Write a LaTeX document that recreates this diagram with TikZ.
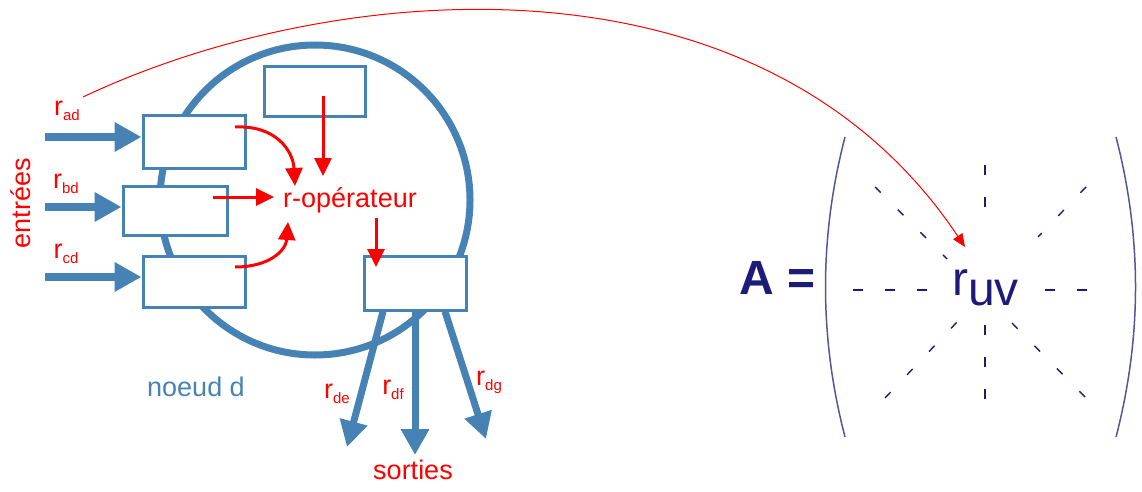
\documentclass[tikz,border=0pt]{standalone}
\usepackage{fontspec}
\setmainfont{Liberation Sans}
\usetikzlibrary{arrows.meta}
\definecolor{blu}{RGB}{70,130,180}
\definecolor{nav}{RGB}{28,28,120}
\newcommand{\rsub}[1]{r\raisebox{-5pt}{\fontsize{15}{15}\selectfont #1}}
\begin{document}
\begin{tikzpicture}[x=1pt,y=-1pt,
 box/.style={draw=blu,line width=3pt,fill=white,minimum width=102pt,minimum height=52pt,inner sep=0pt},
 inarrow/.style={draw=blu,line width=8pt,-{Triangle[length=27pt,width=28pt]}},
 outarrow/.style={draw=blu,line width=7pt,-{Triangle[length=26pt,width=27pt]}},
 redarrow/.style={draw=red,line width=3pt,-{Triangle[length=18pt,width=17pt]}},
 lbl/.style={text=red,font=\fontsize{27}{30}\selectfont,inner sep=0pt},
 dsh/.style={draw=nav,line width=1.8pt,dash pattern=on 10pt off 22pt},
 paren/.style={draw=nav!75,line width=1.5pt}]
\useasboundingbox (0,0) rectangle (1142,492);
% node circle
\node[circle,draw=blu,line width=7pt,minimum size=310pt,inner sep=0pt] (nd) at (315,200) {};
% boxes
\node[box,minimum width=102pt,minimum height=53pt] (b1) at (194,142) {};
\node[box,minimum width=104pt,minimum height=49pt] (b2) at (175,211) {};
\node[box,minimum width=102pt,minimum height=51pt] (b3) at (194,282) {};
\node[box,minimum width=101pt,minimum height=50pt] (bt) at (314.5,92) {};
\node[box,minimum width=102pt,minimum height=54pt] (bo) at (415,283) {};
% input arrows
\coordinate (i1) at (45,137);
\coordinate (i2) at (45,207);
\coordinate (i3) at (45,277);
\draw[inarrow] (i1) -- (i1 -| b1.west);
\draw[inarrow] (i2) -- (i2 -| b2.west);
\draw[inarrow] (i3) -- (i3 -| b3.west);
% output arrows
\coordinate (de) at (347,447);
\coordinate (df) at (415,455);
\coordinate (dg) at (486,439);
\draw[outarrow] ([xshift=-32pt]bo.south) -- (de);
\draw[outarrow] (bo.south) -- (df);
\draw[outarrow] ([xshift=30pt]bo.south) -- (dg);
% labels
\node[lbl] (rad) at (67,111) {\rsub{ad}};
\node[lbl] (rbd) at (66,184) {\rsub{bd}};
\node[lbl] (rcd) at (66,254) {\rsub{cd}};
\node[lbl] (rde) at (337,394) {\rsub{de}};
\node[lbl] (rdf) at (393,390) {\rsub{df}};
\node[lbl] (rdg) at (489,382) {\rsub{dg}};
\node[lbl,rotate=90] (ent) at (21,203) {entrées};
\node[lbl] (sort) at (413,470) {sorties};
\node[lbl,text=blu] (noeud) at (196,387) {noeud d};
\node[lbl] (rop) at (350,200) {r-opérateur};
% red arrows inside
\coordinate (s1) at (235,127);
\coordinate (t1) at (295,186);
\draw[redarrow] (s1) .. controls (275,125) and (293,150) .. (t1);
\coordinate (s2) at (323,96);
\coordinate (t2) at (323,176);
\draw[redarrow] (s2) -- (t2);
\coordinate (s3) at (213,197);
\coordinate (t3) at (274,197);
\draw[redarrow] (s3) -- (t3);
\coordinate (s4) at (235,267);
\coordinate (t4) at (288,222);
\draw[redarrow] (s4) .. controls (270,267) and (286,250) .. (t4);
\coordinate (s5) at (376,218);
\coordinate (t5) at (376,267);
\draw[redarrow] (s5) -- (t5);
% matrix
\node[text=nav,font=\fontsize{48}{50}\selectfont\bfseries,inner sep=0pt] (A) at (778,278) {A =};
\node[text=nav,font=\fontsize{48}{50}\selectfont,inner sep=0pt,anchor=base west] (ruv) at (952,295) {r\raisebox{-10pt}{uv}};
\draw[paren] (845,137) .. controls (819,237) and (819,337) .. (845,437);
\draw[paren] (1116,137) .. controls (1142,237) and (1142,337) .. (1116,437);
\draw[dsh] (985,165) -- (985,212);
\draw[dsh] (985,325) -- (985,402);
\draw[dsh] (853,290) -- (930,290);
\draw[dsh] (1045,290) -- (1090,290);
\draw[dsh,line width=1.4pt,dash pattern=on 8pt off 24pt] (875,187) -- (947,259);
\draw[dsh,line width=1.4pt,dash pattern=on 8pt off 24pt] (1086,187) -- (1038,237);
\draw[dsh,line width=1.4pt,dash pattern=on 8pt off 24pt] (885,398) -- (958,321);
\draw[dsh,line width=1.4pt,dash pattern=on 8pt off 24pt] (1085,397) -- (1012,323);
% long red arc
\coordinate (arcS) at (83,97);
\coordinate (arcE) at (965,247);
\draw[red,line width=1pt,-{Triangle[length=13pt,width=11pt]}] (arcS) .. controls (330,-20) and (760,-60) .. (arcE);
\end{tikzpicture}
\end{document}
